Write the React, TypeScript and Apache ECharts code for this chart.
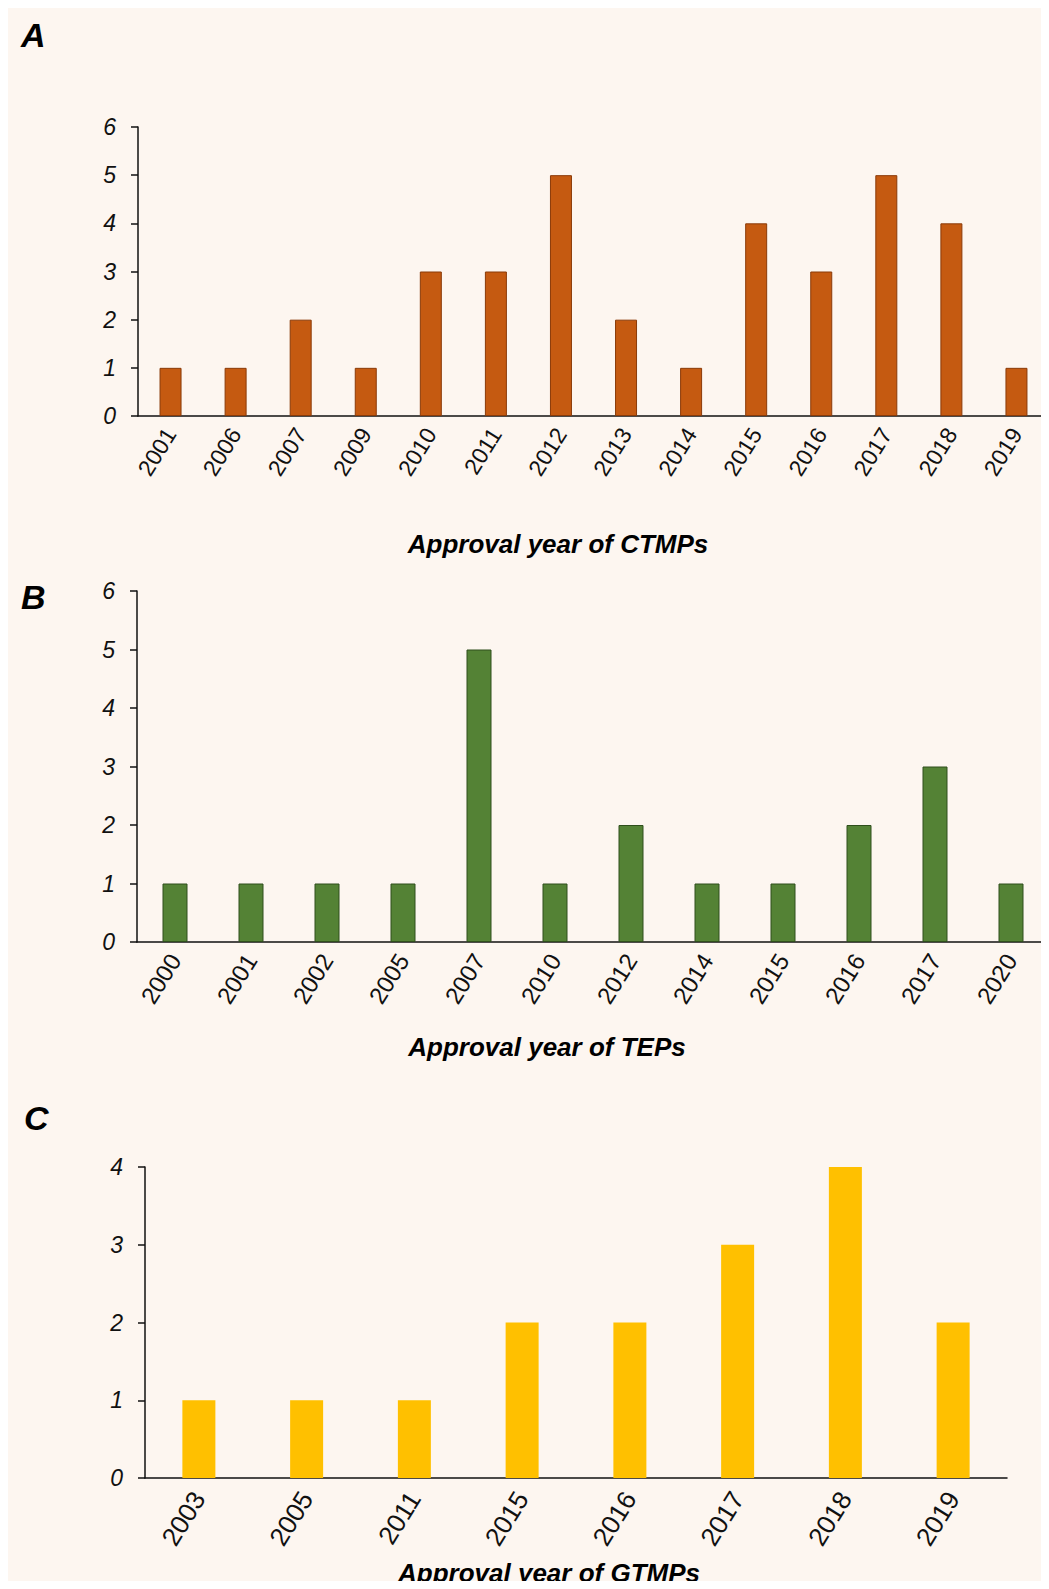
import React, { useEffect, useRef } from "react";
import * as echarts from "echarts";

const yearsA = ["2001", "2006", "2007", "2009", "2010", "2011", "2012", "2013", "2014", "2015", "2016", "2017", "2018", "2019"];
const valuesA = [1, 1, 2, 1, 3, 3, 5, 2, 1, 4, 3, 5, 4, 1];

const yearsB = ["2000", "2001", "2002", "2005", "2007", "2010", "2012", "2014", "2015", "2016", "2017", "2020"];
const valuesB = [1, 1, 1, 1, 5, 1, 2, 1, 1, 2, 3, 1];

const yearsC = ["2003", "2005", "2011", "2015", "2016", "2017", "2018", "2019"];
const valuesC = [1, 1, 1, 2, 2, 3, 4, 2];

const titleA = "Approval year of CTMPs";
const titleB = "Approval year of TEPs";
const titleC = "Approval year of GTMPs";

const FONT = "Arial, 'Liberation Sans', sans-serif";
const INK = "#111111";

function xAxisFor(idx: number, data: string[], size: number, margin: number) {
  return {
    type: "category",
    gridIndex: idx,
    data,
    axisLine: { show: true, lineStyle: { color: INK, width: 1.5 } },
    axisTick: { show: false },
    axisLabel: {
      rotate: 58,
      interval: 0,
      margin,
      fontSize: size,
      fontFamily: FONT,
      color: INK,
    },
    splitLine: { show: false },
  };
}

function yAxisFor(idx: number, max: number) {
  return {
    type: "value",
    gridIndex: idx,
    min: 0,
    max,
    interval: 1,
    axisLine: { show: true, lineStyle: { color: INK, width: 1.5 } },
    axisTick: { show: true, inside: false, length: 7, lineStyle: { color: INK, width: 1.5 } },
    axisLabel: {
      margin: 22,
      fontSize: 23,
      fontStyle: "italic",
      fontFamily: FONT,
      color: INK,
    },
    splitLine: { show: false },
  };
}

export default function App() {
  const ref = useRef<HTMLDivElement>(null);
  useEffect(() => {
    if (!ref.current) return;
    const chart = echarts.init(ref.current, undefined, { renderer: "svg" });
    const letterStyle = {
      fontSize: 34,
      fontWeight: "bold",
      fontStyle: "italic",
      fontFamily: FONT,
      fill: "#000",
    };
    const titleStyle = {
      fontSize: 26,
      fontWeight: "bold",
      fontStyle: "italic",
      fontFamily: FONT,
      fill: "#000",
      align: "center",
      verticalAlign: "middle",
    };
    chart.setOption({
      animation: false,
      backgroundColor: "#FDF6F0",
      grid: [
        { left: 130, top: 119, width: 916, height: 289 },
        { left: 129, top: 583, width: 918, height: 351 },
        { left: 137, top: 1159, width: 862, height: 311 },
      ],
      xAxis: [
        xAxisFor(0, yearsA, 23, 14),
        xAxisFor(1, yearsB, 24, 14),
        xAxisFor(2, yearsC, 26, 16),
      ],
      yAxis: [yAxisFor(0, 6), yAxisFor(1, 6), yAxisFor(2, 4)],
      series: [
        {
          type: "bar",
          xAxisIndex: 0,
          yAxisIndex: 0,
          data: valuesA,
          barWidth: 22,
          itemStyle: { color: "#C55A11", borderColor: "#8A3A08", borderWidth: 1 },
        },
        {
          type: "bar",
          xAxisIndex: 1,
          yAxisIndex: 1,
          data: valuesB,
          barWidth: 25,
          itemStyle: { color: "#548235", borderColor: "#2F4F1C", borderWidth: 1 },
        },
        {
          type: "bar",
          xAxisIndex: 2,
          yAxisIndex: 2,
          data: valuesC,
          barWidth: 33,
          itemStyle: { color: "#FFC000" },
        },
      ],
      graphic: [
        { type: "text", left: 13, top: 10, style: { text: "A", ...letterStyle } },
        { type: "text", left: 13, top: 572, style: { text: "B", ...letterStyle } },
        { type: "text", left: 16, top: 1093, style: { text: "C", ...letterStyle } },
        { type: "text", x: 550, y: 536, style: { text: titleA, ...titleStyle } },
        { type: "text", x: 539, y: 1039, style: { text: titleB, ...titleStyle } },
        { type: "text", x: 541, y: 1565, style: { text: titleC, ...titleStyle } },
      ],
    });
    return () => chart.dispose();
  }, []);
  return (
    <div
      ref={ref}
      style={{ width: 1041, height: 1581, marginBottom: -8, background: "#FDF6F0", overflow: "hidden" }}
    />
  );
}
